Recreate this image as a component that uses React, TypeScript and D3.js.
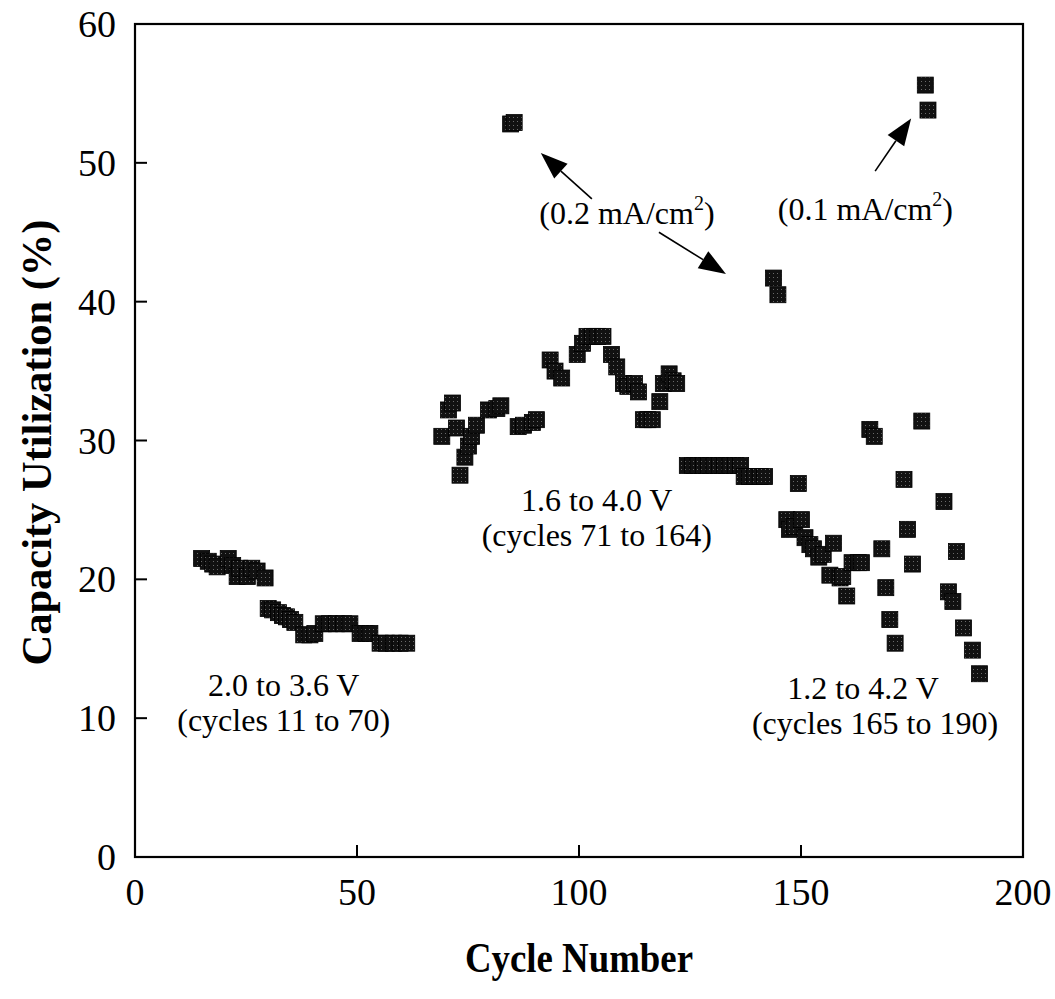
import React from 'react';
import * as d3 from 'd3';

// Capacity utilization vs. cycle number for three voltage windows
const xTickValues = [0, 50, 100, 150, 200];
const yTickValues = [0, 10, 20, 30, 40, 50, 60];

// 2.0 to 3.6 V window: [cycle, capacity %]
const window20to36: [number, number][] = [
  [15, 21.5], [16.5, 21.3], [17.5, 21.1], [18.5, 20.9], [21, 21.5], [22, 21.0],
  [23, 20.2], [23.6, 20.8], [25.3, 20.2], [26.3, 20.8], [27.5, 20.6], [29.3, 20.1],
  [30, 17.9], [31, 17.8], [32.3, 17.6], [33.2, 17.4], [34.1, 17.3], [35, 17.1],
  [36, 16.9], [38, 16.0], [39.4, 16.0], [40.5, 16.1], [42.4, 16.8], [43.8, 16.8],
  [45.4, 16.8], [47, 16.8], [48.4, 16.8], [50.7, 16.1], [52, 16.1], [52.9, 16.1],
  [55.2, 15.4], [56.6, 15.4], [58.2, 15.4], [59.7, 15.4], [61.2, 15.4],
];

// 1.6 to 4.0 V window
const window16to40: [number, number][] = [
  [69.1, 30.3], [70.6, 32.2], [71.5, 32.7], [72.4, 30.9], [73.2, 27.5], [74.3, 28.8],
  [75.1, 29.6], [75.8, 30.3], [76.9, 31.1], [79.6, 32.2], [81.5, 32.3], [82.4, 32.5],
  [86.3, 31.0], [87.5, 31.1], [89.5, 31.3], [90.4, 31.5], [93.5, 35.8], [94.6, 35.0],
  [96.1, 34.5], [99.6, 36.2], [100.8, 37.0], [101.8, 37.5], [103, 37.5], [104.2, 37.5],
  [105.4, 37.5], [107.3, 36.2], [108.5, 35.3], [110, 34.1], [111, 33.9], [112.5, 34.1],
  [113.4, 33.5], [114.5, 31.5], [115.5, 31.5], [116.5, 31.5], [118.2, 32.8], [119, 34.1],
  [120.3, 34.8], [121.2, 34.3], [122, 34.1],
  [124.4, 28.2], [125.6, 28.2], [126.8, 28.2], [128, 28.2], [129.2, 28.2], [130.4, 28.2],
  [131.6, 28.2], [132.8, 28.2], [134, 28.2], [135.2, 28.2], [136.4, 28.2],
  [137.2, 27.4], [138.4, 27.4], [139.6, 27.4], [140.8, 27.4], [141.8, 27.4],
  [146.8, 24.3], [147.4, 23.6], [148.6, 23.8], [149.4, 26.9], [150.1, 24.3], [150.9, 23.0],
  [152, 22.5], [152.8, 22.2], [154, 21.6], [155, 21.8], [156.5, 20.3], [157.3, 22.6],
  [158.8, 20.1], [159.4, 20.2], [160.3, 18.8], [161.5, 21.2], [162.9, 21.2], [163.6, 21.2],
];

// 1.2 to 4.2 V window
const window12to42: [number, number][] = [
  [165.5, 30.8], [166.5, 30.3], [168.2, 22.2], [169.1, 19.4], [170, 17.1], [171.2, 15.4],
  [173.2, 27.2], [174, 23.6], [175.1, 21.1], [177.2, 31.4], [182.2, 25.6], [183.2, 19.1],
  [184.2, 18.4], [185, 22.0], [186.6, 16.5], [188.6, 14.9], [190.2, 13.2],
];

// Cycles run at reduced current density
const lowRate02: [number, number][] = [[84.6, 52.8], [85.4, 52.9], [143.8, 41.7], [144.8, 40.5]];
const lowRate01: [number, number][] = [[178.0, 55.6], [178.6, 53.8]];

const allPoints = [...window20to36, ...window16to40, ...window12to42, ...lowRate02, ...lowRate01];

// Text labels placed in data coordinates
const regionLabels = [
  { x: 33.5, y: 11.6, lines: ['2.0 to 3.6 V', '(cycles 11 to 70)'], dx: [0, 0] },
  { x: 104, y: 24.9, lines: ['1.6 to 4.0 V', '(cycles 71 to 164)'], dx: [0, 0] },
  { x: 166, y: 11.4, lines: ['1.2 to 4.2 V', '(cycles 165 to 190)'], dx: [-9, 3] },
];

const rateLabels = [
  { x: 110.8, y: 45.6, text: '0.2 mA/cm' },
  { x: 164.5, y: 45.9, text: '0.1 mA/cm' },
];

const arrows = [
  { from: [102.9, 47.4], to: [91.4, 50.7] },
  { from: [118.0, 45.0], to: [133.1, 42.0] },
  { from: [166.7, 49.4], to: [174.8, 53.2] },
];

const W = 1055;
const H = 999;
const plot = { left: 135, right: 1023, top: 24, bottom: 857 };
const SERIF = '"Liberation Serif", "Times New Roman", Times, serif';

export default function App() {
  const x = d3.scaleLinear().domain([0, 200]).range([plot.left, plot.right]);
  const y = d3.scaleLinear().domain([0, 60]).range([plot.bottom, plot.top]);
  const size = 16;
  const tickLen = 12;

  const arrowPath = (a: { from: number[]; to: number[] }) => {
    const x1 = x(a.from[0]), y1 = y(a.from[1]);
    const x2 = x(a.to[0]), y2 = y(a.to[1]);
    const ang = Math.atan2(y2 - y1, x2 - x1);
    const headLen = 27, headHalf = 10;
    const bx = x2 - headLen * Math.cos(ang), by = y2 - headLen * Math.sin(ang);
    const px = -Math.sin(ang) * headHalf, py = Math.cos(ang) * headHalf;
    return {
      line: d3.line()([[x1, y1], [bx, by]]) as string,
      head: `M${x2},${y2}L${bx + px},${by + py}L${bx - px},${by - py}Z`,
    };
  };

  return (
    <svg width={W} height={H} style={{ position: 'absolute', left: 0, top: 0, background: '#fff' }}>
      <defs>
        <pattern id="stipple" width="4" height="4" patternUnits="userSpaceOnUse">
          <rect width="4" height="4" fill="#111" />
          <rect x="1" y="1" width="1" height="1" fill="#6a6a6a" />
        </pattern>
      </defs>

      {/* frame */}
      <rect x={plot.left} y={plot.top} width={plot.right - plot.left} height={plot.bottom - plot.top}
        fill="none" stroke="#000" strokeWidth={2.2} />

      {/* x ticks (inward) */}
      {xTickValues.map((t) => (
        <g key={'xt' + t}>
          <line x1={x(t)} x2={x(t)} y1={plot.bottom} y2={plot.bottom - tickLen} stroke="#000" strokeWidth={2} />
          <text x={x(t)} y={905} textAnchor="middle" fontFamily={SERIF} fontSize={38} fill="#000">{t}</text>
        </g>
      ))}

      {/* y ticks (inward) */}
      {yTickValues.map((t) => (
        <g key={'yt' + t}>
          <line x1={plot.left} x2={plot.left + tickLen} y1={y(t)} y2={y(t)} stroke="#000" strokeWidth={2} />
          <text x={116} y={y(t) + 13} textAnchor="end" fontFamily={SERIF} fontSize={38} fill="#000">{t}</text>
        </g>
      ))}

      {/* axis titles */}
      <text x={(plot.left + plot.right) / 2} y={972} textAnchor="middle" fontFamily={SERIF}
        fontWeight="bold" fontSize={42} textLength={228} lengthAdjust="spacingAndGlyphs" fill="#000">Cycle Number</text>
      <text transform={`translate(51, ${(plot.top + plot.bottom) / 2 + 2}) rotate(-90)`} textAnchor="middle"
        fontFamily={SERIF} fontWeight="bold" fontSize={42} textLength={446} lengthAdjust="spacingAndGlyphs"
        fill="#000">Capacity Utilization (%)</text>

      {/* data markers */}
      {allPoints.map(([c, v], i) => (
        <rect key={'p' + i} x={x(c) - size / 2} y={y(v) - size / 2} width={size} height={size}
          fill="url(#stipple)" stroke="#000" strokeWidth={0.8} />
      ))}

      {/* voltage window labels */}
      {regionLabels.map((l, i) => (
        <text key={'rl' + i} fontFamily={SERIF} fontSize={32} fill="#000" textAnchor="middle">
          {l.lines.map((s, j) => (
            <tspan key={j} x={x(l.x) + l.dx[j]} y={y(l.y) + j * 35}>{s}</tspan>
          ))}
        </text>
      ))}

      {/* current density labels */}
      {rateLabels.map((l, i) => (
        <text key={'cd' + i} x={x(l.x)} y={y(l.y)} textAnchor="middle" fontFamily={SERIF} fontSize={32} fill="#000">
          ({l.text}<tspan fontSize={20} dy={-14}>2</tspan><tspan dy={14}>)</tspan>
        </text>
      ))}

      {/* arrows */}
      {arrows.map((a, i) => {
        const p = arrowPath(a);
        return (
          <g key={'ar' + i}>
            <path d={p.line} stroke="#000" strokeWidth={1.6} fill="none" />
            <path d={p.head} fill="#000" />
          </g>
        );
      })}
    </svg>
  );
}
